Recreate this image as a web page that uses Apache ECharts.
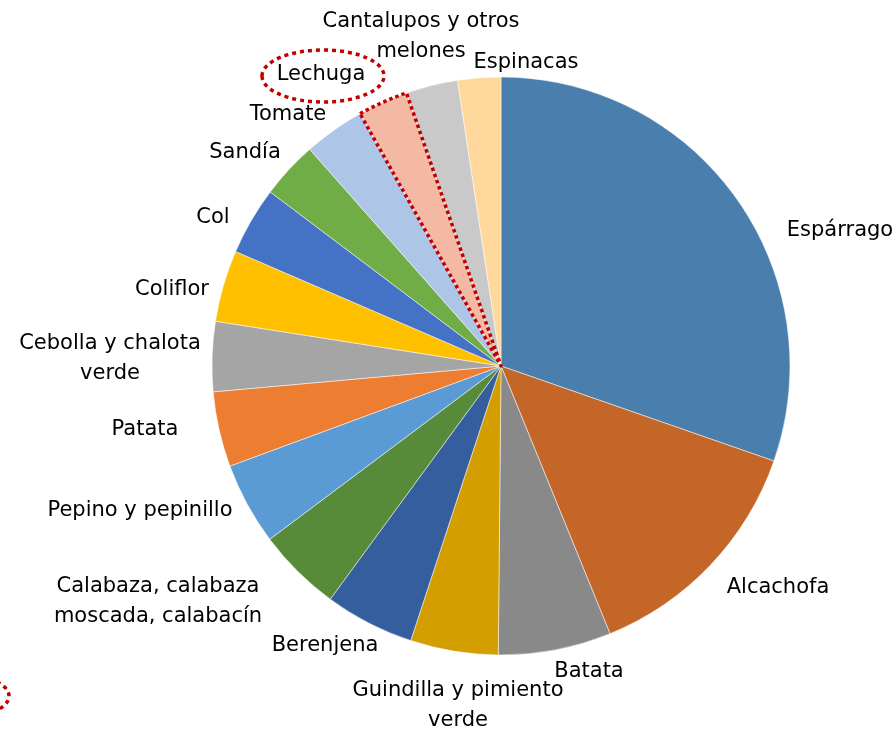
<!DOCTYPE html>
<html>
<head>
<meta charset="utf-8">
<title>Hortalizas</title>
<script src="https://cdn.jsdelivr.net/npm/echarts@6/dist/echarts.min.js"></script>
<style>
  html, body { margin: 0; padding: 0; background: #fff; }
  #chart { width: 896px; height: 729px; }
</style>
</head>
<body>
<div id="chart"></div>
<script>
// Crop names, clockwise from 12 o'clock
const categories = [
  'Espárrago', 'Alcachofa', 'Batata', 'Guindilla y pimiento\nverde', 'Berenjena',
  'Calabaza, calabaza\nmoscada, calabacín', 'Pepino y pepinillo', 'Patata',
  'Cebolla y chalota\nverde', 'Coliflor', 'Col', 'Sandía', 'Tomate', 'Lechuga',
  'Cantalupos y otros\nmelones', 'Espinacas'
];

// Share of each crop (%)
const values = [30.3, 13.5, 6.3, 4.9, 5.0, 4.7, 4.6, 4.2, 3.9, 4.0, 3.8, 3.2, 3.4, 2.8, 2.9, 2.4];

// Slice colours
const colors = [
  '#4A7EAD', '#C46628', '#898989', '#D49E00', '#355E9F',
  '#578B3A', '#5B9BD5', '#ED7D31', '#A5A5A5', '#FFC000',
  '#4472C4', '#70AD47', '#ADC5E7', '#F4B9A4', '#C9C9C9', '#FFD89B'
];

// Highlighted crop
const highlighted = 'Lechuga';

// Label centres
const labelAnchors = [
  [840, 231], [778, 588], [589, 672], [458, 706], [325, 646],
  [158, 602], [140, 511], [145, 430], [110, 359], [172, 290],
  [213, 218], [245, 153], [288, 115], [321, 75], [421, 37], [526, 63]
];

const dotRed = '#C00000';

const chart = echarts.init(document.getElementById('chart'), null, { renderer: 'canvas' });

const baseData = categories.map((name, i) => ({
  name: name,
  value: values[i],
  itemStyle: { color: colors[i] }
}));

// Outline layer: same slices, only the highlighted one gets a dotted border
const outlineData = categories.map((name, i) => ({
  name: name,
  value: values[i],
  itemStyle: name === highlighted
    ? { color: 'rgba(0,0,0,0)', borderColor: dotRed, borderWidth: 3.5, borderType: [3.5, 3], borderCap: 'butt' }
    : { color: 'rgba(0,0,0,0)', borderWidth: 0 }
}));

const pieCommon = {
  type: 'pie',
  center: [501, 366],
  radius: 289,
  startAngle: 90,
  clockwise: true,
  avoidLabelOverlap: false,
  emphasis: { disabled: true },
  silent: true
};

chart.setOption({
  backgroundColor: '#ffffff',
  animation: false,
  series: [
    Object.assign({}, pieCommon, {
      itemStyle: { borderColor: '#ffffff', borderWidth: 0.5 },
      label: {
        show: true,
        position: 'outside',
        color: '#000000',
        fontFamily: '"DejaVu Sans", sans-serif',
        fontSize: 21,
        lineHeight: 30,
        align: 'center'
      },
      labelLine: { show: false },
      labelLayout: function (params) {
        const p = labelAnchors[params.dataIndex];
        return { x: p[0], y: p[1], align: 'center', verticalAlign: 'middle', hideOverlap: false };
      },
      data: baseData
    }),
    Object.assign({}, pieCommon, {
      z: 3,
      label: { show: false },
      labelLine: { show: false },
      data: outlineData
    })
  ],
  graphic: [
    {
      type: 'ellipse',
      shape: { cx: 323, cy: 76, rx: 61, ry: 26 },
      style: { fill: 'none', stroke: dotRed, lineWidth: 3.5, lineDash: [4, 4], lineCap: 'butt' },
      silent: true
    },
    {
      type: 'ellipse',
      shape: { cx: -52, cy: 696, rx: 61, ry: 24 },
      style: { fill: 'none', stroke: dotRed, lineWidth: 3.5, lineDash: [4, 4], lineCap: 'butt' },
      silent: true
    }
  ]
});
</script>
</body>
</html>
